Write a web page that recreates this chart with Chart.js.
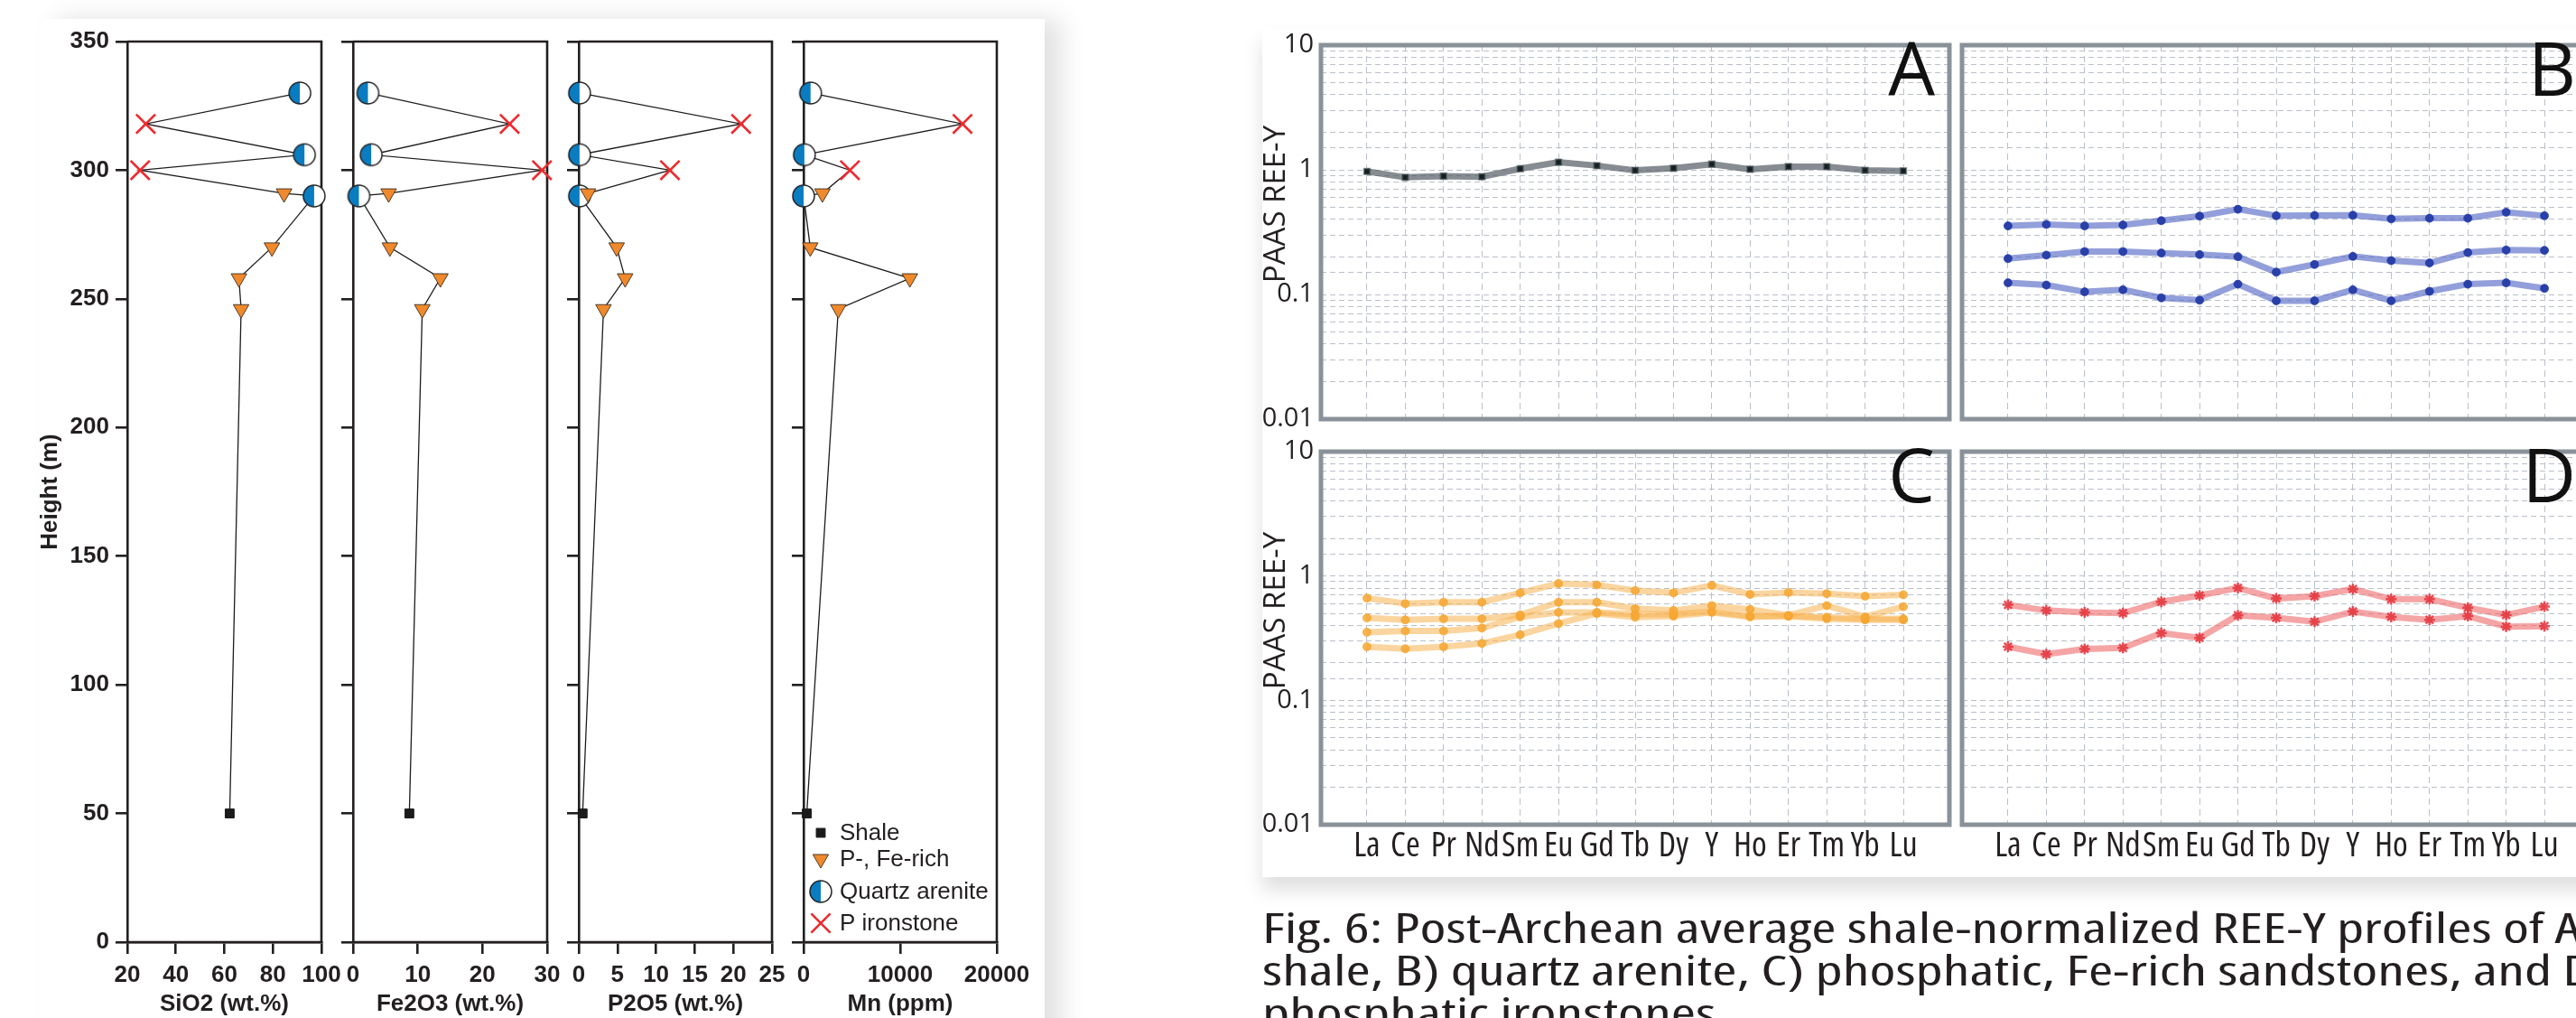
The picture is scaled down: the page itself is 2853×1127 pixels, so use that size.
<!DOCTYPE html>
<html>
<head>
<meta charset="utf-8">
<script src="https://cdn.jsdelivr.net/npm/chart.js@4.4.1/dist/chart.umd.min.js"></script>
<style>
html, body { margin: 0; padding: 0; width: 2853px; height: 1127px; overflow: hidden; background: #fff; }
.card { position: absolute; background: #fff; }
canvas { position: absolute; top: 0; }
.cap { position: absolute; left: 1398px; font-family: 'Open Sans', sans-serif; font-size: 46px; font-stretch: 87.5%;
  line-height: 47px; color: #231f20; white-space: nowrap; transform-origin: 0 0; }
</style>
</head>
<body>
<div class="card" style="left:45px;top:21px;width:1112px;height:1140px;box-shadow:18px 0 26px rgba(0,0,0,0.12);"></div>
<div class="card" style="left:1398px;top:32px;width:1520px;height:939px;box-shadow:0 14px 20px rgba(0,0,0,0.13);"></div>

<canvas id="p1"></canvas>
<canvas id="p2"></canvas>
<canvas id="p3"></canvas>
<canvas id="p4"></canvas>
<canvas id="reeA"></canvas>
<canvas id="reeB"></canvas>
<canvas id="reeC"></canvas>
<canvas id="reeD"></canvas>

<div class="cap" id="cap1" style="top:1003px;">Fig. 6: Post-Archean average shale-normalized REE-Y profiles of A)</div>
<div class="cap" id="cap2" style="top:1050px;">shale, B) quartz arenite, C) phosphatic, Fe-rich sandstones, and D)</div>
<div class="cap" id="cap3" style="top:1097px;">phosphatic ironstones.</div>

<script>
// ---- left: chemostratigraphic profiles ----
const heights = [50, 246, 258, 270, 290, 291, 300, 306, 318, 330];
const lithology = ['Shale', 'P-, Fe-rich', 'P-, Fe-rich', 'P-, Fe-rich', 'Quartz arenite',
  'P-, Fe-rich', 'P ironstone', 'Quartz arenite', 'P ironstone', 'Quartz arenite'];
const sio2 = [62.2, 66.9, 66.0, 79.6, 97.0, 84.6, 25.3, 93.0, 27.6, 91.1];
const fe2o3 = [8.7, 10.7, 13.5, 5.7, 0.9, 5.5, 29.2, 2.8, 24.2, 2.3];
const p2o5 = [0.5, 3.2, 6.0, 4.9, 0.1, 1.2, 11.8, 0.1, 21.0, 0.1];
const mn = [330, 3590, 11000, 690, 0, 1950, 4800, 80, 16450, 720];
const lithNames = ['Shale', 'P-, Fe-rich', 'Quartz arenite', 'P ironstone'];

// ---- right: PAAS normalised REE-Y ----
const reeLabels = ['La', 'Ce', 'Pr', 'Nd', 'Sm', 'Eu', 'Gd', 'Tb', 'Dy', 'Y', 'Ho', 'Er', 'Tm', 'Yb', 'Lu'];
const reeTicks = [0.01, 0.1, 1, 10];
const shaleREE = [0.97, 0.87, 0.89, 0.88, 1.02, 1.15, 1.08, 0.99, 1.03, 1.11, 1.01, 1.06, 1.06, 0.99, 0.98];
const quartzREE1 = [0.355, 0.365, 0.355, 0.361, 0.391, 0.425, 0.483, 0.428, 0.430, 0.432, 0.404, 0.409, 0.409, 0.457, 0.428];
const quartzREE2 = [0.194, 0.207, 0.221, 0.221, 0.215, 0.209, 0.201, 0.151, 0.174, 0.202, 0.187, 0.179, 0.217, 0.227, 0.226];
const quartzREE3 = [0.124, 0.119, 0.105, 0.109, 0.094, 0.090, 0.121, 0.089, 0.089, 0.109, 0.089, 0.106, 0.121, 0.124, 0.112];
const pfeREE1 = [0.664, 0.599, 0.615, 0.615, 0.732, 0.870, 0.847, 0.763, 0.732, 0.840, 0.712, 0.737, 0.722, 0.688, 0.707];
const pfeREE2 = [0.460, 0.444, 0.453, 0.453, 0.486, 0.615, 0.615, 0.547, 0.528, 0.578, 0.539, 0.483, 0.578, 0.469, 0.567];
const pfeREE3 = [0.353, 0.361, 0.361, 0.381, 0.469, 0.510, 0.510, 0.493, 0.493, 0.518, 0.476, 0.476, 0.466, 0.453, 0.453];
const pfeREE4 = [0.270, 0.260, 0.270, 0.287, 0.337, 0.414, 0.500, 0.466, 0.476, 0.510, 0.469, 0.476, 0.453, 0.444, 0.444];
const ironREE1 = [0.586, 0.528, 0.510, 0.503, 0.620, 0.697, 0.801, 0.659, 0.688, 0.785, 0.651, 0.651, 0.555, 0.486, 0.567];
const ironREE2 = [0.270, 0.235, 0.259, 0.264, 0.348, 0.318, 0.483, 0.460, 0.429, 0.518, 0.469, 0.444, 0.476, 0.392, 0.395];

const ink = '#231f20';
const boldFont = "'Liberation Sans', Arial, sans-serif";
const reeFont = "'Open Sans', sans-serif";

// caption: fit the first line to the original width, justify the second
(function fitCaption() {
  const c1 = document.getElementById('cap1');
  const c2 = document.getElementById('cap2');
  const c3 = document.getElementById('cap3');
  const s = 1480 / c1.offsetWidth;
  [c1, c2, c3].forEach(c => { c.style.transform = 'scaleX(' + s + ')'; });
  const w2 = 1470 / s;
  if (c2.offsetWidth < w2) {
    c2.style.width = w2 + 'px';
    c2.style.textAlign = 'justify';
    c2.style.textAlignLast = 'justify';
  }
})();

// half blue / half white circle for quartz arenite
function halfCircle(r) {
  const c = document.createElement('canvas');
  const s = 2 * r + 4;
  c.width = s; c.height = s;
  const g = c.getContext('2d');
  const m = s / 2;
  g.beginPath(); g.arc(m, m, r, 0, 2 * Math.PI); g.fillStyle = '#fff'; g.fill();
  g.beginPath(); g.arc(m, m, r, Math.PI / 2, 3 * Math.PI / 2); g.closePath();
  g.fillStyle = '#0a7cc1'; g.fill();
  g.beginPath(); g.arc(m, m, r, 0, 2 * Math.PI); g.lineWidth = 1.5; g.strokeStyle = '#222'; g.stroke();
  return c;
}
const qaImg = halfCircle(12);

const lithStyle = {
  'Shale': { pointStyle: 'rect', radius: 7, rotation: 0, bg: '#1b1b1b', border: '#1b1b1b', bw: 1 },
  'P-, Fe-rich': { pointStyle: 'triangle', radius: 10, rotation: 180, bg: '#f0892b', border: '#4b3b2b', bw: 1 },
  'Quartz arenite': { pointStyle: qaImg, radius: 12, rotation: 0, bg: '#fff', border: '#222', bw: 1 },
  'P ironstone': { pointStyle: 'crossRot', radius: 15, rotation: 0, bg: '#ee2a2e', border: '#ee2a2e', bw: 2.6 }
};

const frameLeft = {
  id: 'frameLeft',
  beforeDatasetsDraw(chart) {
    const a = chart.chartArea, ctx = chart.ctx;
    ctx.save();
    ctx.strokeStyle = ink; ctx.lineWidth = 2.6;
    ctx.beginPath();
    ctx.moveTo(a.left, a.top); ctx.lineTo(a.right, a.top); ctx.lineTo(a.right, a.bottom); ctx.lineTo(a.left, a.bottom);
    ctx.stroke();
    ctx.restore();
  }
};

const legendBox = {
  id: 'legendBox',
  afterDatasetsDraw(chart, args, opts) {
    if (!opts.show) return;
    const a = chart.chartArea, ctx = chart.ctx;
    const rows = [-121, -92, -56, -21];
    ctx.save();
    lithNames.forEach((name, i) => {
      const st = lithStyle[name];
      const y = a.bottom + rows[i];
      ctx.fillStyle = st.bg; ctx.strokeStyle = st.border; ctx.lineWidth = st.bw;
      Chart.helpers.drawPoint(ctx, { pointStyle: st.pointStyle, radius: st.radius, rotation: st.rotation, borderWidth: st.bw }, a.left + 19, y);
      ctx.fillStyle = ink;
      ctx.font = "26px 'Liberation Sans', Arial, sans-serif";
      ctx.textBaseline = 'middle';
      ctx.fillText(name, a.left + 40, y + 1);
    });
    ctx.restore();
  }
};

const panels = [
  { id: 'p1', vals: sio2, min: 20, max: 100, step: 20, title: 'SiO2 (wt.%)', plotL: 141, plotR: 356, canvasL: 0, padR: 34, showY: true },
  { id: 'p2', vals: fe2o3, min: 0, max: 30, step: 10, title: 'Fe2O3 (wt.%)', plotL: 391, plotR: 606, canvasL: 371, padR: 34 },
  { id: 'p3', vals: p2o5, min: 0, max: 25, step: 5, title: 'P2O5 (wt.%)', plotL: 641, plotR: 855, canvasL: 621, padR: 34 },
  { id: 'p4', vals: mn, min: 0, max: 20000, step: 10000, title: 'Mn (ppm)', plotL: 890, plotR: 1104, canvasL: 870, padR: 60, legend: true }
];

panels.forEach(p => {
  const cv = document.getElementById(p.id);
  const w = p.plotR - p.canvasL + p.padR;
  cv.width = w; cv.height = 1127;
  cv.style.left = p.canvasL + 'px';
  const yw = p.plotL - p.canvasL;

  const datasets = lithNames.map(name => {
    const st = lithStyle[name];
    const pts = [];
    heights.forEach((h, i) => { if (lithology[i] === name) pts.push({ x: p.vals[i], y: h }); });
    return {
      label: name, data: pts, showLine: false, clip: false,
      pointStyle: st.pointStyle, pointRadius: st.radius, pointRotation: st.rotation,
      pointBackgroundColor: st.bg, pointBorderColor: st.border, pointBorderWidth: st.bw
    };
  });
  datasets.push({
    label: 'profile', data: heights.map((h, i) => ({ x: p.vals[i], y: h })),
    showLine: true, borderColor: '#1c1c1c', borderWidth: 1.3, pointRadius: 0, clip: false
  });

  new Chart(cv, {
    type: 'scatter',
    data: { datasets },
    options: {
      responsive: false, animation: false, events: [],
      layout: { padding: { top: 46, right: p.padR, left: 0, bottom: 0 }, autoPadding: false },
      plugins: { legend: { display: false }, tooltip: { enabled: false }, legendBox: { show: !!p.legend } },
      scales: {
        x: {
          type: 'linear', min: p.min, max: p.max,
          afterFit: s => { s.height = 84; },
          grid: { drawOnChartArea: false, drawTicks: true, tickLength: 13, color: ink, lineWidth: 2.6 },
          border: { display: true, color: ink, width: 2.6 },
          ticks: { stepSize: p.step, padding: 8, color: ink, font: { family: boldFont, size: 26, weight: 'bold' },
            maxRotation: 0, autoSkip: false, callback: v => String(v) },
          title: { display: true, text: p.title, color: ink, font: { family: boldFont, size: 26, weight: 'bold' },
            padding: { top: 1, bottom: 0 } }
        },
        y: {
          type: 'linear', min: 0, max: 350,
          afterFit: s => { s.width = yw; },
          grid: { drawOnChartArea: false, drawTicks: true, tickLength: 13, color: ink, lineWidth: 2.6 },
          border: { display: true, color: ink, width: 2.6 },
          ticks: { display: !!p.showY, stepSize: 50, padding: 7, color: ink,
            font: { family: boldFont, size: 26, weight: 'bold' } },
          title: { display: !!p.showY, text: 'Height (m)', color: ink,
            font: { family: boldFont, size: 26, weight: 'bold' }, padding: { top: 40, bottom: 0 } }
        }
      }
    },
    plugins: [frameLeft, legendBox]
  });
});

// ---- REE panels ----
const reeFrame = {
  id: 'reeFrame',
  afterDatasetsDraw(chart, args, opts) {
    const a = chart.chartArea, ctx = chart.ctx;
    ctx.save();
    ctx.strokeStyle = '#8a9299'; ctx.lineWidth = 5;
    ctx.strokeRect(a.left, a.top, a.right - a.left, a.bottom - a.top);
    ctx.fillStyle = '#111';
    ctx.font = "82px 'Open Sans', sans-serif";
    ctx.textAlign = 'right'; ctx.textBaseline = 'top';
    ctx.fillText(opts.letter, a.right - 16, a.top - 8);
    if (opts.title) {
      ctx.translate(a.left - 49, a.top + 176);
      ctx.rotate(-Math.PI / 2);
      ctx.font = "33px 'Open Sans', sans-serif";
      ctx.fillStyle = ink;
      ctx.textAlign = 'center'; ctx.textBaseline = 'middle';
      ctx.fillText(opts.title, 0, 0);
    }
    ctx.restore();
  }
};

function reeSet(vals, color, line, marker, style, radius, bw) {
  return {
    data: vals.map((v, i) => ({ x: i, y: v })),
    showLine: true, borderColor: line, borderWidth: 7, tension: 0,
    pointStyle: style, pointRadius: radius, pointBackgroundColor: marker,
    pointBorderColor: color, pointBorderWidth: bw
  };
}

const reePanels = [
  { id: 'reeA', letter: 'A', left: 1395, top: 0, plotL: 1463, plotT: 50, plotB: 464, h: 490, yLab: true, xLab: false,
    sets: [reeSet(shaleREE, 'rgba(70,78,84,0.55)', 'rgba(88,96,102,0.72)', '#142020', 'rect', 4.5, 2)] },
  { id: 'reeB', letter: 'B', left: 2163, top: 0, plotL: 2173, plotT: 50, plotB: 464, h: 490, yLab: false, xLab: false,
    sets: [quartzREE1, quartzREE2, quartzREE3].map(s =>
      reeSet(s, 'rgba(30,55,170,0.7)', 'rgba(80,100,195,0.62)', '#2a40a8', 'circle', 4.5, 1)) },
  { id: 'reeC', letter: 'C', left: 1395, top: 470, plotL: 1463, plotT: 500, plotB: 913, h: 520, yLab: true, xLab: true,
    sets: [pfeREE1, pfeREE2, pfeREE3, pfeREE4].map(s =>
      reeSet(s, 'rgba(245,160,40,0.7)', 'rgba(248,178,80,0.55)', 'rgba(246,168,50,0.85)', 'circle', 4.5, 1)) },
  { id: 'reeD', letter: 'D', left: 2163, top: 470, plotL: 2173, plotT: 500, plotB: 913, h: 520, yLab: false, xLab: true,
    sets: [ironREE1, ironREE2].map(s =>
      reeSet(s, 'rgba(228,50,60,0.85)', 'rgba(238,105,105,0.6)', 'rgba(228,50,60,0.85)', 'star', 6, 2.5)) }
];

const plotW = 695.6;
reePanels.forEach(p => {
  const cv = document.getElementById(p.id);
  const yw = p.plotL - p.left;
  cv.width = Math.round(yw + plotW + 10);
  cv.height = p.h;
  cv.style.left = p.left + 'px';
  cv.style.top = p.top + 'px';
  const padTop = p.plotT - p.top;
  const xh = p.top + p.h - p.plotB;

  new Chart(cv, {
    type: 'scatter',
    data: { datasets: p.sets },
    options: {
      responsive: false, animation: false, events: [],
      layout: { padding: { top: padTop, right: 10, left: 0, bottom: 0 }, autoPadding: false },
      plugins: { legend: { display: false }, tooltip: { enabled: false },
        reeFrame: { letter: p.letter, title: p.yLab ? 'PAAS REE-Y' : '' } },
      scales: {
        x: {
          type: 'linear', min: -1.2, max: 15.2,
          afterFit: s => { s.height = xh; },
          grid: { color: '#bac0c9', lineWidth: 1, drawTicks: false },
          border: { display: false, dash: [7, 5] },
          ticks: { display: p.xLab, stepSize: 1, autoSkip: false, maxRotation: 0, padding: 1, color: ink,
            font: { family: reeFont, size: 38, weight: 'condensed' },
            callback: v => (Number.isInteger(v) && v >= 0 && v < reeLabels.length) ? reeLabels[v] : '' }
        },
        y: {
          type: 'logarithmic', min: 0.01, max: 10,
          afterFit: s => { s.width = yw; },
          grid: { color: '#bac0c9', lineWidth: 1, drawTicks: false },
          border: { display: false, dash: [6, 4] },
          ticks: { display: p.yLab, autoSkip: false, padding: 8, color: ink,
            font: { family: reeFont, size: 29 },
            callback: v => reeTicks.includes(Number(v)) ? String(v) : '' }
        }
      }
    },
    plugins: [reeFrame]
  });
});
</script>
</body>
</html>
